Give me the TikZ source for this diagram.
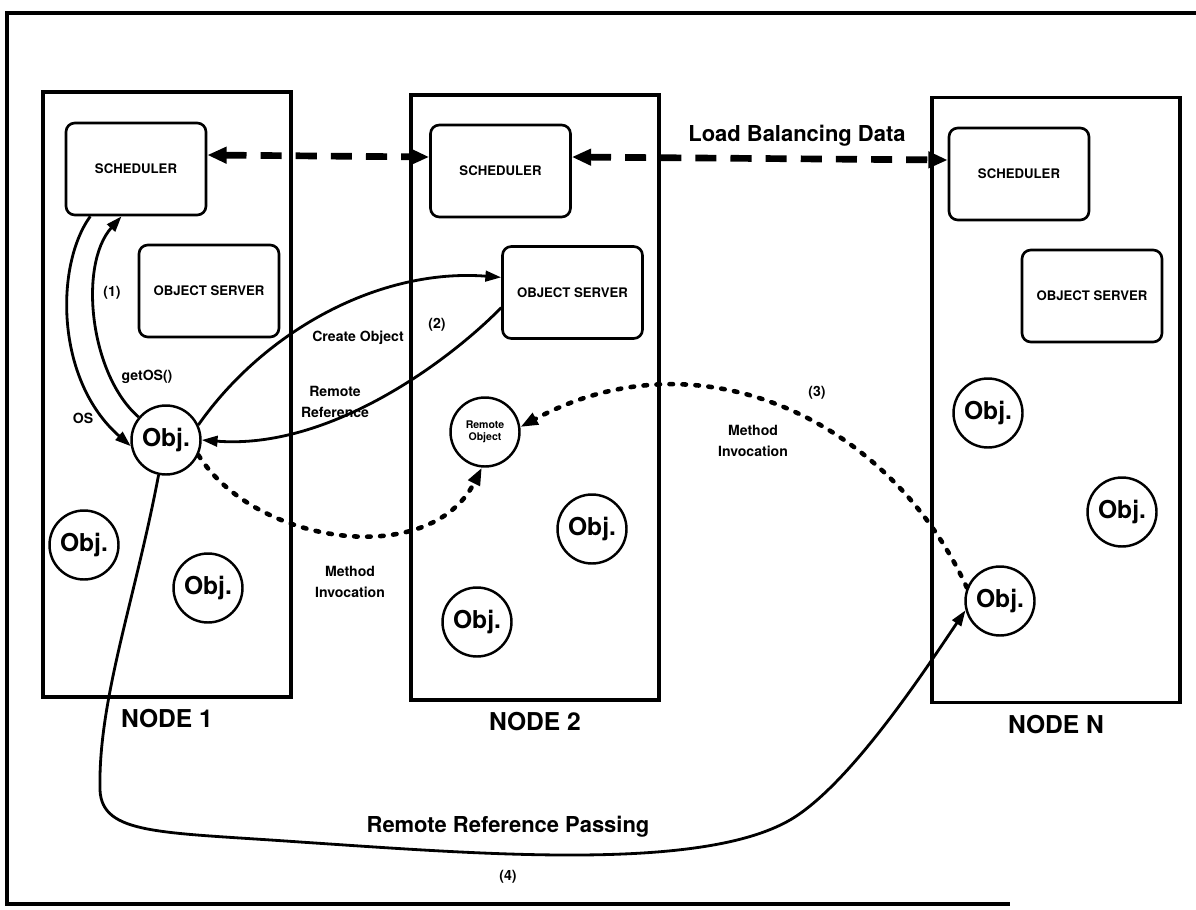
\documentclass[tikz,border=0pt]{standalone}
\usepackage{fontspec}
\setmainfont{TeX Gyre Heros}
\usetikzlibrary{positioning,arrows.meta,calc}
\tikzset{
  host/.style={draw,line width=2pt,minimum width=4.96cm,minimum height=12.1cm,inner sep=0pt},
  unit/.style={draw,rounded corners=5pt,line width=1.5pt,minimum width=2.8cm,minimum height=1.84cm,font=\fontsize{7.5}{9}\selectfont\bfseries},
  obj/.style={circle,draw,line width=1.4pt,minimum size=1.38cm,inner sep=0pt,font=\fontsize{14}{14}\selectfont\bfseries},
  hlbl/.style={font=\fontsize{14}{14}\selectfont\bfseries,inner sep=1pt},
  edge/.style={-{Triangle[length=9pt,width=6pt]},line width=1.6pt},
  ldedge/.style={{Triangle[length=11pt,width=9pt]}-{Triangle[length=11pt,width=9pt]},line width=3.8pt,dash pattern=on 12pt off 8pt},
  dedge/.style={-{Triangle[length=10pt,width=7pt]},line width=2.6pt,line cap=round,dash pattern=on 2pt off 5.4pt},
  elbl/.style={font=\fontsize{8}{12}\selectfont\bfseries,inner sep=1pt,align=center},
  blbl/.style={font=\fontsize{12.5}{14}\selectfont\bfseries,inner sep=1pt},
}

\begin{document}
\begin{tikzpicture}[x=0.02cm,y=-0.02cm]
  \useasboundingbox (0,0) rectangle (1196,909);
  \draw[line width=2pt] (1196,13) -- (7,13) -- (7,904) -- (1010,904);

  \node[host] (n1) at (167,394.5) {};
  \node[host] (n2) at (535,397.5) {};
  \node[host] (nN) at (1056,400) {};
  \node[hlbl,below=5pt of n1] (t1) {NODE 1};
  \node[hlbl,below=5pt of n2] (t2) {NODE 2};
  \node[hlbl,below=5pt of nN] (tN) {NODE N};

  \node[unit] (s1) at (136,169) {SCHEDULER};
  \node[unit] (o1) at (209,291) {OBJECT SERVER};
  \node[unit] (s2) at (500.5,171) {SCHEDULER};
  \node[unit] (o2) at (572.5,292.5) {OBJECT SERVER};
  \node[unit] (sN) at (1019,174) {SCHEDULER};
  \node[unit] (oN) at (1092,296) {OBJECT SERVER};

  \node[obj] (ob1) at (166,440) {Obj.};
  \node[obj] (ob2) at (84,545) {Obj.};
  \node[obj] (ob3) at (208,588) {Obj.};
  \node[obj,font=\fontsize{6}{7}\selectfont\bfseries,align=center] (rem) at (485,432) {Remote\\Object};
  \node[obj] (ob4) at (592,529) {Obj.};
  \node[obj] (ob5) at (477,622) {Obj.};
  \node[obj] (ob6) at (988,413) {Obj.};
  \node[obj] (ob7) at (1122,512) {Obj.};
  \node[obj] (ob8) at (1000,601) {Obj.};

  % load balancing
  \draw[ldedge] ([yshift=0.28cm]s1.east) -- ([yshift=0.28cm]s2.west);
  \draw[ldedge] ([yshift=0.28cm]s2.east) -- ([yshift=0.28cm]sN.west);
  \node[blbl] (lbd) at (797,136) {Load Balancing Data};

  % (1) and (2)
  \draw[edge] (s1.226) .. controls (55,265) and (55,380) .. (ob1.190);
  \draw[edge] (ob1.140) .. controls (90,375) and (78,265) .. (s1.253);
  \draw[edge] (ob1.25) .. controls (265,330) and (380,268) .. (o2.168);
  \draw[edge] (o2.192) .. controls (450,360) and (330,450) .. (ob1.east);
  \node[elbl] (l1) at (112,293) {(1)};
  \node[elbl] (lget) at (147,377) {getOS()};
  \node[elbl] (los) at (83,418) {OS};
  \node[elbl] (lcr) at (358,338) {Create Object};
  \node[elbl] (lrr) at (335,402) {Remote\\Reference};
  \node[elbl] (l2) at (437,325) {(2)};

  % (3) method invocation
  \draw[dedge] (ob1.-25) .. controls (255,545) and (430,570) .. (rem.265);
  \draw[dedge] (ob8.158) .. controls (890,420) and (700,330) .. (rem.8);
  \node[elbl] (l3) at (817,393) {(3)};
  \node[elbl] (lmi) at (753,441) {Method\\Invocation};
  \node[elbl] (lmi2) at (350,582) {Method\\Invocation};

  % (4) passing
  \draw[edge] (ob1.258) .. controls (135,600) and (98,700) .. (100,790)
    .. controls (102,835) and (160,832) .. (300,842)
    .. controls (480,854) and (700,872) .. (790,820)
    .. controls (850,785) and (925,670) .. (ob8.195);
  \node[blbl] (lrp) at (508,827) {Remote Reference Passing};
  \node[elbl] (l4) at (508,877) {(4)};
\end{tikzpicture}
\end{document}
